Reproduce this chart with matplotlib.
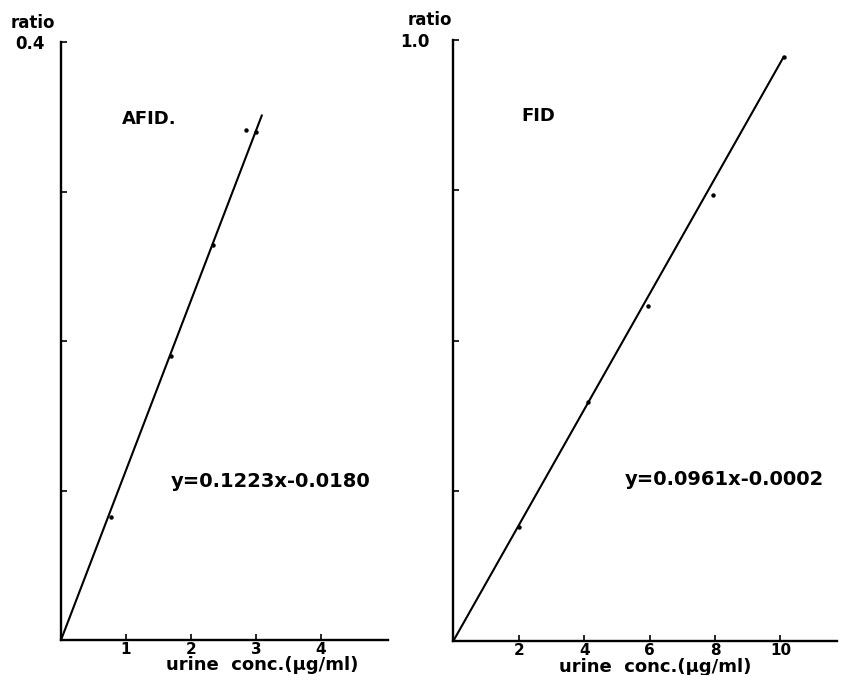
import matplotlib
matplotlib.use("Agg")
import matplotlib.pyplot as plt

# AFID calibration (left panel)
afid_x = [0.77, 1.69, 2.34, 2.85, 3.0]
afid_y = [0.082, 0.190, 0.264, 0.341, 0.340]
afid_line_x = [0.0, 3.09]
afid_line_y = [0.0, 0.351]
afid_xticks = [1, 2, 3, 4]
afid_yticks = [0.1, 0.2, 0.3]

# FID calibration (right panel)
fid_x = [2.01, 4.13, 5.95, 7.94, 10.1]
fid_y = [0.190, 0.397, 0.557, 0.742, 0.972]
fid_line_x = [0.0, 10.1]
fid_line_y = [0.0, 0.972]
fid_xticks = [2, 4, 6, 8, 10]
fid_yticks = [0.25, 0.5, 0.75]

W, H = 843, 675
fig = plt.figure(figsize=(W / 100, H / 100), dpi=100)
FONT = "DejaVu Sans"


def px_axes(x0, x1, y_bottom, y_top):
    return fig.add_axes([x0 / W, (H - y_bottom) / H, (x1 - x0) / W, (y_bottom - y_top) / H])


def style(ax, xmax, ymax, xticks, yticks, top_label, top_pad, label_xy, ratio_xy):
    ax.set_xlim(0, xmax)
    ax.set_ylim(0, ymax)
    for s in ["top", "right"]:
        ax.spines[s].set_visible(False)
    for s in ["left", "bottom"]:
        ax.spines[s].set_linewidth(1.7)
    ax.set_xticks(xticks)
    ax.set_xticklabels([str(t) for t in xticks], fontsize=11, fontweight="bold", family=FONT)
    ax.set_yticks(yticks + [ymax])
    ax.set_yticklabels([""] * len(yticks) + [top_label], fontsize=12, fontweight="bold", family=FONT)
    ax.tick_params(axis="x", direction="in", length=4, width=1.2, pad=1.5)
    ax.tick_params(axis="y", direction="in", length=4, width=1.2, pad=top_pad)
    ax.set_yticks([ymax], minor=True)
    ax.tick_params(axis="y", which="minor", direction="inout", length=9, width=1.5)
    ax.set_xlabel("urine  conc.(\u03bcg/ml)", fontsize=13, fontweight="bold", family=FONT)
    ax.xaxis.set_label_coords(*label_xy)
    ax.text(ratio_xy[0], ratio_xy[1], "ratio", transform=ax.transAxes, ha="center", va="center",
            fontsize=12, fontweight="bold", family=FONT, clip_on=False)


# left panel
ax1 = px_axes(61, 388, 640, 42)
ax1.plot(afid_line_x, afid_line_y, color="black", lw=1.5, solid_capstyle="round")
ax1.plot(afid_x, afid_y, "o", color="black", ms=2.2)
style(ax1, 5.03, 0.4, afid_xticks, afid_yticks, "0.4", 11.5, (0.616, -0.027), (-0.086, 1.031))
ax1.text(0.94, 0.3485, "AFID.", fontsize=13, fontweight="bold", family=FONT,
         va="center", ha="left")
ax1.text(1.69, 0.106, "y=0.1223x-0.0180", fontsize=14, fontweight="bold", family=FONT,
         va="center", ha="left")

# right panel
ax2 = px_axes(453.3, 836.7, 641, 40)
ax2.plot(fid_line_x, fid_line_y, color="black", lw=1.5, solid_capstyle="round")
ax2.plot(fid_x, fid_y, "o", color="black", ms=2.2)
style(ax2, 11.72, 1.0, fid_xticks, fid_yticks, "1.0", 17, (0.526, -0.028), (-0.06, 1.033))
ax2.text(2.09, 0.874, "FID", fontsize=13, fontweight="bold", family=FONT, va="center", ha="left")
ax2.text(5.25, 0.268, "y=0.0961x-0.0002", fontsize=14, fontweight="bold", family=FONT,
         va="center", ha="left")

fig.savefig("out.png", dpi=100)
